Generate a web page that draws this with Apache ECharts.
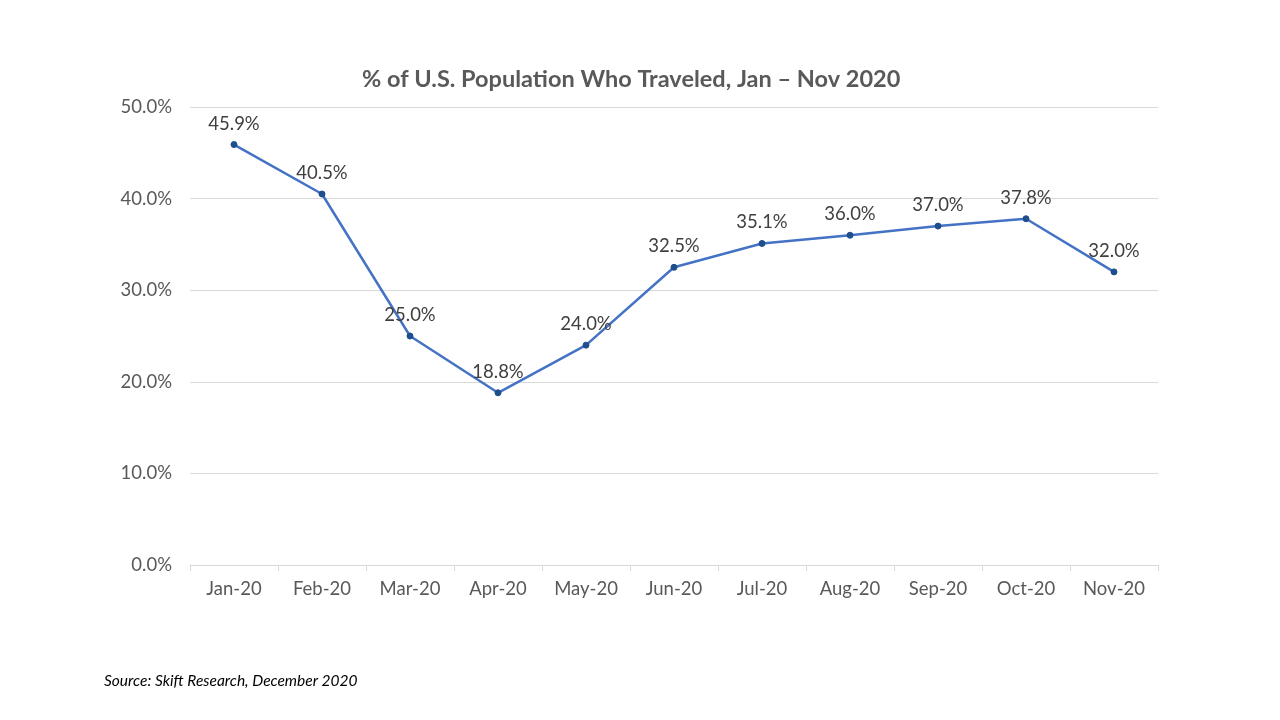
<!DOCTYPE html>
<html>
<head>
<meta charset="utf-8">
<script src="https://cdn.jsdelivr.net/npm/echarts@6/dist/echarts.min.js"></script>
<style>
  html, body { margin: 0; padding: 0; background: #fff; }
  #chart { width: 1280px; height: 720px; }
</style>
</head>
<body>
<div id="chart"></div>
<script>
var months = ['Jan-20','Feb-20','Mar-20','Apr-20','May-20','Jun-20','Jul-20','Aug-20','Sep-20','Oct-20','Nov-20'];
var traveled = [45.9, 40.5, 25.0, 18.8, 24.0, 32.5, 35.1, 36.0, 37.0, 37.8, 32.0];

var myChart = echarts.init(document.getElementById('chart'));
var option = {
    backgroundColor: '#fff',
    textStyle: { fontFamily: 'Lato' },
    title: {
        text: '% of U.S. Population Who Traveled, Jan \u2013 Nov 2020',
        left: 357,
        top: 62,
        textStyle: { fontSize: 23.5, fontWeight: 'bold', color: '#595959', fontFamily: 'Lato' }
    },
    graphic: [{
        type: 'text',
        left: 104,
        top: 673,
        style: { text: 'Source: Skift Research, December 2020', font: 'italic 15.5px Lato', fill: '#000' }
    }],
    grid: { left: 190, right: 122, top: 107, bottom: 155 },
    xAxis: {
        type: 'category',
        data: months,
        boundaryGap: true,
        axisLine: { lineStyle: { color: '#d9d9d9', width: 1 } },
        axisTick: { show: true, length: 6, lineStyle: { color: '#d9d9d9' } },
        axisLabel: { color: '#595959', fontSize: 18.5, margin: 15 }
    },
    yAxis: {
        type: 'value',
        min: 0,
        max: 50,
        interval: 10,
        axisLine: { show: false },
        axisTick: { show: false },
        splitLine: { lineStyle: { color: '#d9d9d9', width: 1 } },
        axisLabel: {
            color: '#595959', fontSize: 18.5, margin: 18,
            formatter: function (v) { return v.toFixed(1) + '%'; }
        }
    },
    series: [{
        type: 'line',
        data: traveled,
        symbol: 'circle',
        symbolSize: 6,
        lineStyle: { color: '#4472c4', width: 2.5 },
        itemStyle: { color: '#1f4e8c', borderColor: '#1f4e8c' },
        label: {
            show: true,
            position: 'top',
            distance: 8,
            color: '#404040',
            fontSize: 18.5,
            formatter: function (p) { return p.value.toFixed(1) + '%'; }
        }
    }]
};
myChart.setOption(option);
</script>
</body>
</html>
